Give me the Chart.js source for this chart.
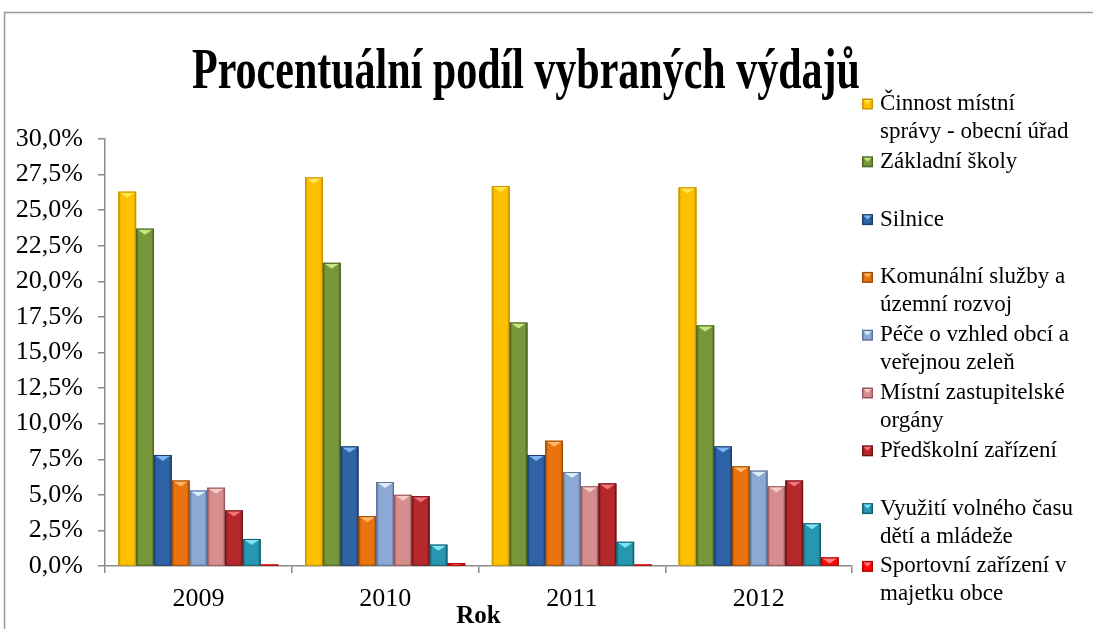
<!DOCTYPE html>
<html>
<head>
<meta charset="utf-8">
<script src="https://cdn.jsdelivr.net/npm/chart.js@4"></script>
<style>
  html, body { margin: 0; padding: 0; background: #fff; }
  #wrap { position: relative; width: 1093px; height: 629px; }
</style>
</head>
<body>
<div id="wrap"><canvas id="c" width="1093" height="629"></canvas></div>
<script>
const YEARS = ['2009', '2010', '2011', '2012'];

// podíl v % podle roku
const cinnostUradu   = [26.3, 27.3, 26.7, 26.6];
const zakladniSkoly  = [23.7, 21.3, 17.1, 16.9];
const silnice        = [7.8, 8.4, 7.8, 8.4];
const komunalni      = [6.0, 3.5, 8.8, 7.0];
const peceOVzhled    = [5.3, 5.9, 6.6, 6.7];
const zastupitelske  = [5.5, 5.0, 5.6, 5.6];
const predskolni     = [3.9, 4.9, 5.8, 6.0];
const volnyCas       = [1.9, 1.5, 1.7, 3.0];
const sportovni      = [0.1, 0.2, 0.1, 0.6];

const SERIES_NAMES = [
  'Činnost místní\nsprávy - obecní úřad',
  'Základní školy',
  'Silnice',
  'Komunální služby a\núzemní rozvoj',
  'Péče o vzhled obcí a\nveřejnou zeleň',
  'Místní zastupitelské\norgány',
  'Předškolní zařízení',
  'Využití volného času\ndětí a mládeže',
  'Sportovní zařízení v\nmajetku obce',
];
const SERIES_VALUES = [cinnostUradu, zakladniSkoly, silnice, komunalni, peceOVzhled,
                       zastupitelske, predskolni, volnyCas, sportovni];

// base, dark edge, light top
const PALETTE = [
  ['#FFC000', '#C79500', '#FFE64F'],
  ['#78973A', '#4C6424', '#C6E67E'],
  ['#2F63A6', '#1C3F6E', '#7DB5F2'],
  ['#E8730F', '#9E4A05', '#FFB968'],
  ['#8CA8D4', '#5B7299', '#DDEBFA'],
  ['#D68D8D', '#96585A', '#F6CACA'],
  ['#B5282B', '#701516', '#F2727A'],
  ['#2796B0', '#17606F', '#7EE3F7'],
  ['#FF0A0A', '#B30000', '#FF8080'],
];

const SERIF = '"Liberation Serif", "Times New Roman", serif';
const fmt = v => v.toFixed(1).replace('.', ',') + '%';

const frameAndTitle = {
  id: 'frameAndTitle',
  beforeDraw(chart) {
    const { ctx } = chart;
    ctx.save();
    ctx.strokeStyle = '#9a9a9a';
    ctx.lineWidth = 1.5;
    ctx.strokeRect(4.5, 12.5, 1200, 700);
    ctx.restore();
  },
  afterDraw(chart) {
    const { ctx } = chart;
    ctx.save();
    ctx.fillStyle = '#000';
    ctx.font = `bold 56px ${SERIF}`;
    ctx.textAlign = 'center';
    ctx.textBaseline = 'alphabetic';
    // narrow, tall title like the original
    ctx.translate(526, 88);
    ctx.scale(0.75, 1);
    ctx.fillText('Procentuální podíl vybraných výdajů', 0, 0);
    ctx.restore();
  },
};

// bevel look: shaded sides and a lighter triangle on top of each bar
const bevelBars = {
  id: 'bevelBars',
  afterDatasetsDraw(chart) {
    const { ctx } = chart;
    ctx.save();
    chart.data.datasets.forEach((ds, di) => {
      const [base, dark, light] = PALETTE[di];
      chart.getDatasetMeta(di).data.forEach(bar => {
        const w = bar.width, l = bar.x - w / 2, r = bar.x + w / 2;
        const top = bar.y, bottom = bar.base;
        const h = bottom - top;
        if (h <= 0) return;
        const g = ctx.createLinearGradient(l, 0, r, 0);
        g.addColorStop(0, dark);
        g.addColorStop(0.15, base);
        g.addColorStop(0.85, base);
        g.addColorStop(1, dark);
        ctx.fillStyle = g;
        ctx.fillRect(l, top, w, h);
        const th = Math.min(6, h);
        ctx.beginPath();
        ctx.moveTo(l + 1, top + 0.5);
        ctx.lineTo(r - 1, top + 0.5);
        ctx.lineTo(bar.x, top + th);
        ctx.closePath();
        ctx.fillStyle = light;
        ctx.fill();
        ctx.strokeStyle = dark;
        ctx.lineWidth = 1;
        ctx.strokeRect(l + 0.5, top + 0.5, w - 1, h - 0.5);
      });
    });
    ctx.restore();
  },
};

const sideLegend = {
  id: 'sideLegend',
  afterDraw(chart) {
    const { ctx } = chart;
    ctx.save();
    ctx.font = `23px ${SERIF}`;
    ctx.textBaseline = 'middle';
    ctx.fillStyle = '#000';
    chart.data.datasets.forEach((ds, i) => {
      const [base, dark, light] = PALETTE[i];
      const y = 104 + i * 57.8;
      const bx = 862, bs = 11;
      ctx.fillStyle = dark;
      ctx.fillRect(bx, y - bs / 2, bs, bs);
      ctx.fillStyle = base;
      ctx.fillRect(bx + 1.5, y - bs / 2 + 1.5, bs - 3, bs - 3);
      ctx.beginPath();
      ctx.moveTo(bx + 1.5, y - bs / 2 + 1.5);
      ctx.lineTo(bx + bs - 1.5, y - bs / 2 + 1.5);
      ctx.lineTo(bx + bs / 2, y);
      ctx.closePath();
      ctx.fillStyle = light;
      ctx.fill();
      ctx.fillStyle = '#000';
      ds.label.split('\n').forEach((line, k) => ctx.fillText(line, 880, y + k * 28));
    });
    ctx.restore();
  },
};

new Chart(document.getElementById('c'), {
  type: 'bar',
  data: {
    labels: YEARS,
    datasets: SERIES_NAMES.map((name, i) => ({
      label: name,
      data: SERIES_VALUES[i],
      backgroundColor: PALETTE[i][0],
      borderWidth: 0,
      categoryPercentage: 0.857,
      barPercentage: 1.0,
    })),
  },
  options: {
    responsive: false,
    animation: false,
    layout: { padding: { top: 139, right: 241, left: 0, bottom: 0 } },
    plugins: {
      legend: { display: false },
      tooltip: { enabled: false },
      title: { display: false },
    },
    scales: {
      x: {
        afterFit: s => { s.height = 63; },
        grid: { drawOnChartArea: false, offset: true, tickLength: 7, color: '#8c8c8c', lineWidth: 1.5 },
        border: { color: '#8c8c8c', width: 1.5 },
        ticks: { color: '#000', font: { family: SERIF, size: 26 }, padding: 11 },
        title: {
          display: true, text: 'Rok', color: '#000',
          font: { family: SERIF, size: 25, weight: 'bold' },
          padding: { top: 0, bottom: -3 },
        },
      },
      y: {
        min: 0,
        max: 30,
        afterFit: s => { s.width = 105; },
        grid: { drawOnChartArea: false, tickLength: 7, color: '#8c8c8c', lineWidth: 1.5 },
        border: { color: '#8c8c8c', width: 1.5 },
        ticks: {
          stepSize: 2.5,
          color: '#000',
          font: { family: SERIF, size: 26 },
          padding: 15,
          callback: v => fmt(v),
        },
      },
    },
  },
  plugins: [frameAndTitle, bevelBars, sideLegend],
});
</script>
</body>
</html>
